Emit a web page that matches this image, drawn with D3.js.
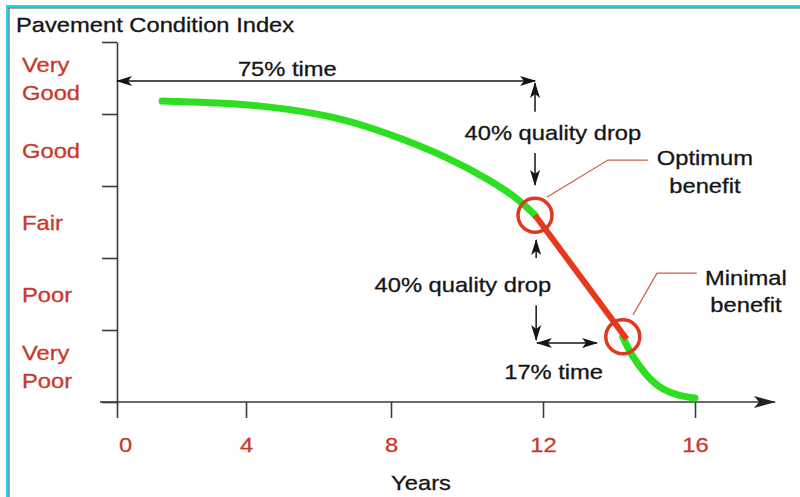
<!DOCTYPE html>
<html><head><meta charset="utf-8">
<script src="https://cdn.jsdelivr.net/npm/d3@7"></script>
<style>
body{margin:0;background:#fff}
svg{display:block}
text{font-family:"Liberation Sans",Arial,Helvetica,sans-serif}
</style>
</head><body>
<svg id="chart" width="800" height="497"></svg>
<script>
// ---------- data ----------
const titleText = "Pavement Condition Index";
const xTitle = "Years";
const conditionLabels = [["Very","Good"],["Good"],["Fair"],["Poor"],["Very","Poor"]];
const conditionTicks = [100,80,60,40,20,0];
const yearTicks = [0,4,8,12,16];

// deterioration curve (years, PCI 0-100)
const greenYears = [1.40, 2.57, 3.81, 5.21, 6.59, 7.70, 8.24, 9.47, 10.61, 11.39, 11.79];
const greenPCI   = [83.6, 83.3, 82.8, 81.4, 78.9, 75.3, 73.3, 68.1, 61.7, 56.1, 51.9];
const redYears   = [11.79, 14.20];
const redPCI     = [51.9, 17.5];
const tailYears  = [14.10, 14.29, 14.74, 15.16, 15.60, 16.00];
const tailPCI    = [18.1, 13.6, 6.9, 3.3, 1.7, 1.1];

const circleYears = [11.79, 14.10];
const circlePCI   = [51.9, 18.1];

const calloutLabels = [["Optimum","benefit"],["Minimal","benefit"]];
const calloutYears  = [[12.10, 13.71, 14.76],[14.37, 15.00, 16.05]];
const calloutPCI    = [[56.9, 67.2, 67.2],[24.2, 35.8, 35.8]];
const calloutTextYear = [16.26, 17.34];
const calloutTextPCI  = [[65.8, 58.1],[32.5, 25.0]];

const annoText = ["75% time","40% quality drop","40% quality drop","17% time"];
const annoTextYear = [5.14, 12.26, 9.89, 12.28];
const annoTextPCI  = [90.6, 72.8, 30.6, 6.4];
// arrows: [x1,y1,x2,y2] in (years, PCI); heads at both ends when both=true
const arrows = [
  {p:[0, 89.2, 11.79, 89.2], both:true},
  {p:[11.79, 80.6, 11.79, 88.6], both:false},
  {p:[11.79, 69.2, 11.79, 60.3], both:false},
  {p:[11.82, 40.0, 11.82, 45.0], both:false},
  {p:[11.82, 26.9, 11.82, 17.2], both:false},
  {p:[11.84, 16.4, 13.42, 16.4], both:true}
];

// ---------- setup ----------
const svg = d3.select("#chart");
const STRETCH = 1.13;
const x = d3.scaleLinear().domain(yearTicks).range([117, 246, 391, 543, 695]);
const y = d3.scaleLinear().domain([0, 100]).range([402, 42]);

const RED_TXT = "#c8382a";
const GREEN = "#2ce021";
const RED_LINE = "#e8381c";
const CIRCLE = "#dc3a22";
const CALLOUT = "#c8604e";
const INK = "#151515";
const AXIS = "#3a3a3a";

// frame (cyan + dark edge, top and left)
svg.append("rect").attr("x",6).attr("y",5).attr("width",794).attr("height",2.5).attr("fill","#19d6e8");
svg.append("rect").attr("x",6).attr("y",5).attr("width",2.5).attr("height",492).attr("fill","#19d6e8");
svg.append("rect").attr("x",8.5).attr("y",7.5).attr("width",791.5).attr("height",1).attr("fill","#555");
svg.append("rect").attr("x",8.5).attr("y",7.5).attr("width",1).attr("height",489.5).attr("fill","#555");

const defs = svg.append("defs");
defs.append("marker").attr("id","ah").attr("viewBox","0 -6 16 12")
  .attr("refX",15).attr("refY",0).attr("markerWidth",16).attr("markerHeight",12)
  .attr("markerUnits","userSpaceOnUse").attr("orient","auto-start-reverse")
  .append("path").attr("d","M0,-5 L16,0 L0,5 L4,0 Z").attr("fill",INK);
defs.append("marker").attr("id","axh").attr("viewBox","0 -7 22 14")
  .attr("refX",21).attr("refY",0).attr("markerWidth",22).attr("markerHeight",14)
  .attr("markerUnits","userSpaceOnUse").attr("orient","auto")
  .append("path").attr("d","M0,-6 L22,0 L0,6 L5,0 Z").attr("fill","#222");

function label(g, px, py, str, anchor, color) {
  return g.append("text")
    .attr("transform", `translate(${px},${py}) scale(${STRETCH},1)`)
    .attr("text-anchor", anchor)
    .attr("font-size", 21)
    .attr("fill", color)
    .attr("stroke", color).attr("stroke-width", 0.3)
    .text(str);
}

// title
label(svg, 16, 32, titleText, "start", INK);

// y axis
const yAxis = svg.append("g").attr("transform", `translate(${x(0)},0)`)
  .call(d3.axisLeft(y).tickValues(conditionTicks).tickSize(15).tickSizeOuter(0).tickFormat(""));
yAxis.selectAll("path,line").attr("stroke", AXIS).attr("stroke-width", 1.6);

// condition labels
conditionLabels.forEach((lines, i) => {
  const c = y((conditionTicks[i] + conditionTicks[i+1]) / 2) + 8;
  const off = lines.length === 2 ? -14 : 0;
  lines.forEach((t, j) => label(svg, 22, c + off + j * 28, t, "start", RED_TXT));
});

// x axis
const xAxis = svg.append("g").attr("transform", `translate(0,${y(0)})`)
  .call(d3.axisBottom(x).tickValues(yearTicks).tickSize(16).tickFormat(d3.format("d")));
xAxis.select(".domain").remove();
xAxis.selectAll("line").attr("stroke", AXIS).attr("stroke-width", 1.6);
xAxis.selectAll("text")
  .attr("y", null).attr("dy", null)
  .attr("transform", d => `translate(${d === 0 ? 8 : 0},50) scale(${STRETCH},1)`)
  .attr("font-size", 21).attr("fill", RED_TXT)
  .attr("stroke", RED_TXT).attr("stroke-width", 0.3)
  .attr("font-family", '"Liberation Sans",Arial,sans-serif');
svg.append("line")
  .attr("x1", x(0) - 17).attr("x2", x(16) + 80)
  .attr("y1", y(0)).attr("y2", y(0))
  .attr("stroke", AXIS).attr("stroke-width", 1.6)
  .attr("marker-end", "url(#axh)");
label(svg, 421, 490, xTitle, "middle", INK);

// curve
const lineGen = d3.line().x(d => x(d[0])).y(d => y(d[1])).curve(d3.curveBasis);
const zip = (a, b) => a.map((v, i) => [v, b[i]]);
svg.append("path").datum(zip(tailYears, tailPCI)).attr("d", lineGen)
  .attr("fill","none").attr("stroke",GREEN).attr("stroke-width",7).attr("stroke-linecap","round");
svg.append("path").datum(zip(greenYears, greenPCI)).attr("d", lineGen)
  .attr("fill","none").attr("stroke",GREEN).attr("stroke-width",7).attr("stroke-linecap","round");
svg.append("path").datum(zip(redYears, redPCI)).attr("d", d3.line().x(d => x(d[0])).y(d => y(d[1])))
  .attr("fill","none").attr("stroke",RED_LINE).attr("stroke-width",6).attr("stroke-linecap","butt");

// circles
svg.selectAll("circle.mark").data(zip(circleYears, circlePCI)).join("circle")
  .attr("class","mark").attr("cx", d => x(d[0])).attr("cy", d => y(d[1])).attr("r", 17)
  .attr("fill","none").attr("stroke",CIRCLE).attr("stroke-width",3.5);

// callouts
calloutLabels.forEach((lines, i) => {
  svg.append("path").datum(zip(calloutYears[i], calloutPCI[i]))
    .attr("d", d3.line().x(d => x(d[0])).y(d => y(d[1])))
    .attr("fill","none").attr("stroke",CALLOUT).attr("stroke-width",1.2);
  lines.forEach((t, j) => label(svg, x(calloutTextYear[i]), y(calloutTextPCI[i][j]), t, "middle", INK));
});

// arrows
arrows.forEach(a => {
  const l = svg.append("line")
    .attr("x1", x(a.p[0])).attr("y1", y(a.p[1]))
    .attr("x2", x(a.p[2])).attr("y2", y(a.p[3]))
    .attr("stroke", INK).attr("stroke-width", 1.5)
    .attr("marker-end", "url(#ah)");
  if (a.both) l.attr("marker-start", "url(#ah)");
});

// annotation texts
annoText.forEach((t, i) => label(svg, x(annoTextYear[i]), y(annoTextPCI[i]), t, "middle", INK));
</script>
</body></html>
